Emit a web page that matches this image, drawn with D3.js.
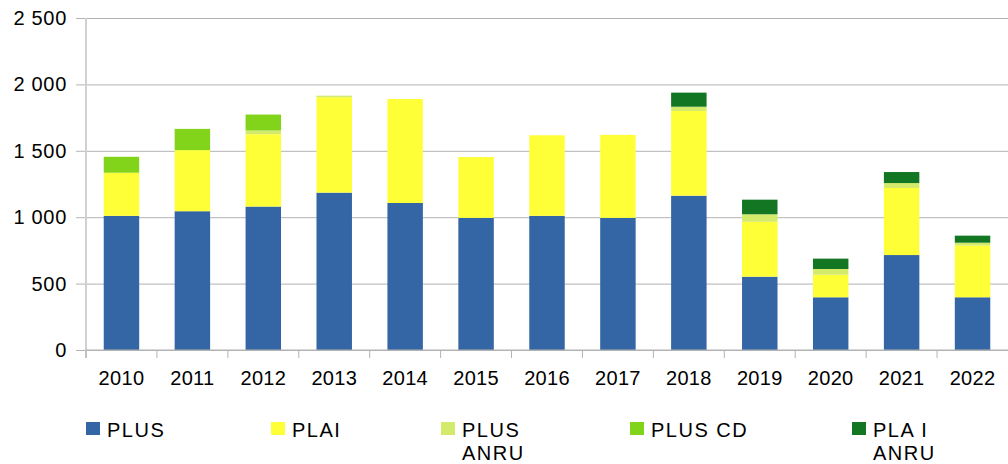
<!DOCTYPE html>
<html>
<head>
<meta charset="utf-8">
<script src="https://cdn.jsdelivr.net/npm/d3@7"></script>
<style>
  html, body { margin: 0; padding: 0; background: #fff; }
  svg { display: block; font-family: "Liberation Sans", Arial, sans-serif; }
</style>
</head>
<body>
<div id="chart"></div>
<script>
// Stacked bars per year, bottom to top
const YEARS = ["2010","2011","2012","2013","2014","2015","2016","2017","2018","2019","2020","2021","2022"];
const SERIES = ["PLUS", "PLAI", "PLUS ANRU", "PLUS CD", "PLA I ANRU"];
const LEGEND_LABELS = [["PLUS"], ["PLAI"], ["PLUS", "ANRU"], ["PLUS CD"], ["PLA I", "ANRU"]];
const COLORS = ["#3465a4", "#ffff38", "#d4ea6b", "#81d41a", "#127622"];

const PLUS       = [1010, 1045, 1080, 1185, 1107,  995, 1010,  995, 1162, 552, 397, 715, 397];
const PLAI       = [ 325,  460,  545,  718,  783,  458,  607,  625,  638, 414, 170, 505, 389];
const PLUS_ANRU  = [   0,    0,   28,   12,    0,    0,    0,    0,   32,  56,  43,  37,  22];
const PLUS_CD    = [ 120,  160,  120,    0,    0,    0,    0,    0,    0,   0,   0,   0,   0];
const PLAI_ANRU  = [   0,    0,    0,    0,    0,    0,    0,    0,  106, 110,  78,  83,  53];

const Y_TICKS = [0, 500, 1000, 1500, 2000, 2500];

const totalW = 1008, totalH = 464;
const margin = { top: 18, right: 0, bottom: 114, left: 86 };
const W = totalW - margin.left - margin.right;
const H = totalH - margin.top - margin.bottom;

const rows = YEARS.map((year, i) => ({
  year,
  "PLUS": PLUS[i], "PLAI": PLAI[i], "PLUS ANRU": PLUS_ANRU[i],
  "PLUS CD": PLUS_CD[i], "PLA I ANRU": PLAI_ANRU[i]
}));
const stacked = d3.stack().keys(SERIES)(rows);

const fr = d3.formatLocale({ decimal: ",", thousands: "\u00a0", grouping: [3], currency: ["", ""] });
const fmt = fr.format(",d");

const svg = d3.select("#chart").append("svg")
  .attr("width", totalW).attr("height", totalH);
const g = svg.append("g").attr("transform", `translate(${margin.left},${margin.top})`);

const x = d3.scaleBand().domain(YEARS).range([0, W]).paddingInner(0.5).paddingOuter(0.25);
const y = d3.scaleLinear().domain([0, 2500]).range([H, 0]);
const half = (x.step() - x.bandwidth()) / 2;

/* grid */
g.append("g")
  .call(d3.axisLeft(y).tickValues(Y_TICKS).tickSize(-W).tickFormat(""))
  .call(ax => { ax.select(".domain").remove(); ax.selectAll("line").attr("stroke", "#b3b3b3"); });

/* bars */
g.selectAll(".series")
  .data(stacked)
  .join("g")
  .attr("fill", (d, i) => COLORS[i])
  .selectAll("rect")
  .data(d => d.filter(s => s[1] - s[0] > 0))
  .join("rect")
  .attr("x", d => x(d.data.year))
  .attr("width", x.bandwidth())
  .attr("y", d => y(d[1]))
  .attr("height", d => y(d[0]) - y(d[1]));

/* y axis */
g.append("g")
  .call(d3.axisLeft(y).tickValues(Y_TICKS).tickSize(10).tickPadding(9).tickFormat(fmt))
  .call(ax => {
    ax.select(".domain").remove();
    ax.selectAll("line").attr("stroke", "#b3b3b3");
    ax.selectAll("text").attr("font-size", 20).attr("fill", "#000")
      .attr("letter-spacing", 0.7)
      .attr("font-family", "'Liberation Sans', Arial, sans-serif");
  });
g.append("line")
  .attr("x1", 0).attr("x2", 0).attr("y1", 0).attr("y2", H + 8)
  .attr("stroke", "#d0d0d0").attr("stroke-width", 2);

/* x axis */
const xa = g.append("g").attr("transform", `translate(0,${H})`);
xa.append("line").attr("x1", 0).attr("x2", W).attr("stroke", "#b3b3b3");
xa.selectAll(".tk")
  .data(YEARS)
  .join("line")
  .attr("x1", d => x(d) - half).attr("x2", d => x(d) - half)
  .attr("y1", 0).attr("y2", 8)
  .attr("stroke", "#b3b3b3");
xa.selectAll(".lbl")
  .data(YEARS)
  .join("text")
  .attr("x", d => x(d) + x.bandwidth() / 2)
  .attr("y", 35)
  .attr("text-anchor", "middle")
  .attr("font-size", 20)
  .attr("letter-spacing", 0.3)
  .attr("fill", "#000")
  .text(d => d);

/* legend */
const LEGEND_X = [86, 271, 441, 630, 852];
const lg = svg.append("g");
SERIES.forEach((s, i) => {
  const item = lg.append("g").attr("transform", `translate(${LEGEND_X[i]},422)`);
  item.append("rect").attr("width", 14).attr("height", 13).attr("fill", COLORS[i]);
  LEGEND_LABELS[i].forEach((t, j) => {
    item.append("text")
      .attr("x", 21).attr("y", 15 + j * 23)
      .attr("font-size", 20).attr("letter-spacing", 1.5).attr("fill", "#000")
      .text(t);
  });
});
</script>
</body>
</html>
